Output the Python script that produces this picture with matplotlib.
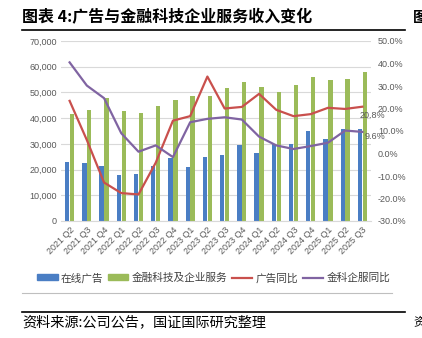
import matplotlib.pyplot as plt
import matplotlib.patches as mpatches
from matplotlib.lines import Line2D
import numpy as np

plt.rcParams['font.family'] = ['Noto Sans CJK SC', 'DejaVu Sans']

# 数据
quarters = ['2021 Q2', '2021 Q3', '2021 Q4', '2022 Q1', '2022 Q2', '2022 Q3',
            '2022 Q4', '2023 Q1', '2023 Q2', '2023 Q3', '2023 Q4', '2024 Q1',
            '2024 Q2', '2024 Q3', '2024 Q4', '2025 Q1', '2025 Q2', '2025 Q3']
online_ads = [22760, 22370, 21460, 17820, 18470, 21330, 24580, 20940, 24970,
              25620, 29650, 26400, 29780, 29910, 34980, 31860, 35760, 35900]
fintech_services = [41740, 43300, 47850, 42780, 42130, 44730, 47200, 48630, 48500,
                    51890, 54230, 52150, 50330, 52930, 56050, 54750, 55400, 57900]
ads_yoy = [23.4, 6.0, -12.9, -17.6, -18.2, -4.1, 14.6, 16.6, 34.2,
           20.0, 20.7, 26.5, 19.4, 16.6, 17.5, 20.3, 19.8, 20.8]
fintech_yoy = [40.5, 30.2, 24.6, 9.0, 0.8, 3.6, -1.6, 13.9, 15.4,
               16.1, 15.1, 7.5, 3.6, 2.0, 3.3, 4.8, 10.2, 9.6]

c_blue = '#4A7EC4'
c_green = '#9BBB59'
c_red = '#C9504D'
c_purple = '#8064A2'
c_tick = '#595959'
latin = ['Liberation Sans', 'DejaVu Sans']

fig = plt.figure(figsize=(4.22, 3.38), dpi=100)
ax = fig.add_axes([61 / 422, 1 - 221 / 338, 310 / 422, 180 / 338])
x = np.arange(len(quarters))
w = 0.25
ax.bar(x - 0.14, online_ads, w, color=c_blue, zorder=2)
ax.bar(x + 0.14, fintech_services, w, color=c_green, zorder=2)
ax.set_xlim(-0.5, len(quarters) - 0.5)
ax.set_ylim(0, 70000)
ax.set_yticks(range(0, 70001, 10000))
ax.set_yticklabels([f'{v:,}' for v in range(0, 70001, 10000)])
ax.yaxis.grid(True, color='#D9D9D9', linewidth=0.8, zorder=0)
ax.set_axisbelow(True)
for s in ['top', 'right', 'left']:
    ax.spines[s].set_visible(False)
ax.spines['bottom'].set_color('#D9D9D9')
ax.tick_params(axis='both', length=0, labelsize=6.5, colors=c_tick, pad=3)
ax.set_xticks(x)
ax.set_xticklabels(quarters, rotation=45, ha='right', rotation_mode='anchor',
                   fontsize=6.5, family=latin)
for lab in ax.get_yticklabels():
    lab.set_family(latin)

ax2 = ax.twinx()
ax2.plot(x, ads_yoy, color=c_red, linewidth=1.6, zorder=3)
ax2.plot(x, fintech_yoy, color=c_purple, linewidth=1.6, zorder=3)
ax2.set_ylim(-30, 50)
ax2.set_yticks(range(-30, 51, 10))
ax2.set_yticklabels([f'{v:.1f}%' for v in range(-30, 51, 10)])
for s in ['top', 'right', 'left', 'bottom']:
    ax2.spines[s].set_visible(False)
ax2.tick_params(axis='y', length=0, labelsize=6.5, colors=c_tick, pad=5)
for lab in ax2.get_yticklabels():
    lab.set_family(latin)

ax2.annotate(f'{ads_yoy[-1]:.1f}%', (x[-1], ads_yoy[-1]), xytext=(-2, -8),
             textcoords='offset points', fontsize=6.5, color=c_tick, family=latin)
ax2.annotate(f'{fintech_yoy[-1]:.1f}%', (x[-1], fintech_yoy[-1]), xytext=(1.5, -5),
             textcoords='offset points', fontsize=6.5, color=c_tick, family=latin)

# 图例
handles = [mpatches.Patch(color=c_blue), mpatches.Patch(color=c_green),
           Line2D([], [], color=c_red, linewidth=1.6),
           Line2D([], [], color=c_purple, linewidth=1.6)]
labels = ['在线广告', '金融科技及企业服务', '广告同比', '金科企服同比']
fig.legend(handles, labels, loc='center left', bbox_to_anchor=(33 / 422, 1 - 278 / 338),
           ncol=4, frameon=False, fontsize=7.7, handlelength=1.9, handleheight=0.5,
           handletextpad=0.3, columnspacing=0.45, labelcolor='#404040', borderaxespad=0)

# 标题与来源
fig.text(22 / 422, 1 - 17 / 338, '图表 4:广告与金融科技企业服务收入变化',
         fontsize=11.5, fontweight='bold', va='center', ha='left')
fig.add_artist(Line2D([22 / 422, 405 / 422], [1 - 30 / 338] * 2, color='black', linewidth=1.2))
fig.add_artist(Line2D([22 / 422, 392 / 422], [1 - 293 / 338] * 2, color='#BFBFBF', linewidth=0.8))
fig.add_artist(Line2D([22 / 422, 405 / 422], [1 - 311.5 / 338] * 2, color='black', linewidth=1.2))
fig.text(22 / 422, 1 - 322 / 338, '资料来源:公司公告，国证国际研究整理',
         fontsize=10.2, va='center', ha='left')
fig.text(413 / 422, 1 - 322 / 338, '资', fontsize=9, va='center', ha='left')
fig.text(413 / 422, 1 - 17 / 338, '图', fontsize=10.5, fontweight='bold', va='center', ha='left')

fig.savefig('out.png', dpi=100)
